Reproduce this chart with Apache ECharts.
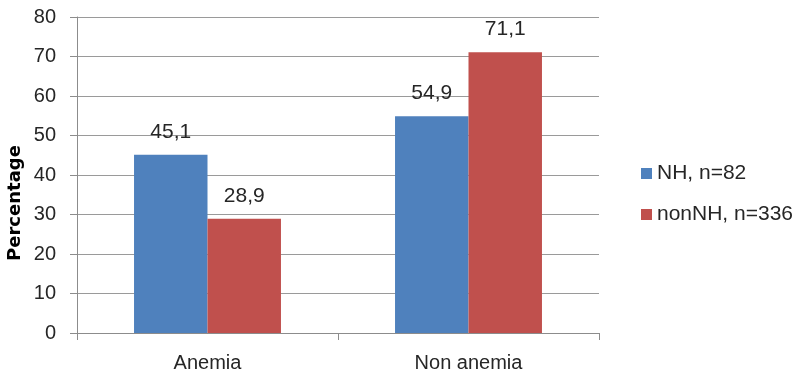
<!DOCTYPE html>
<html>
<head>
<meta charset="utf-8">
<script src="https://cdn.jsdelivr.net/npm/echarts@6/dist/echarts.min.js"></script>
<style>
  html, body { margin: 0; padding: 0; background: #fff; }
  #chart { width: 801px; height: 376px; }
</style>
</head>
<body>
<div id="chart"></div>
<script>
// Anemia prevalence by group
const categories = ['Anemia', 'Non anemia'];
const seriesNames = ['NH, n=82', 'nonNH, n=336'];
const nhValues = [45.1, 54.9];
const nonNhValues = [28.9, 71.1];
const yTicks = [0, 10, 20, 30, 40, 50, 60, 70, 80];
const yTitle = 'Percentage';

const FONT = 'Liberation Sans';
const TEXT = '#262626';
const AXIS = '#8c8c8c';
const fmt = v => String(v).replace('.', ',');

const chart = echarts.init(document.getElementById('chart'), null, { renderer: 'canvas' });

const labelStyle = {
  show: true,
  position: 'top',
  distance: 12,
  color: TEXT,
  fontFamily: FONT,
  fontSize: 21,
  formatter: p => fmt(p.value)
};

chart.setOption({
  animation: false,
  backgroundColor: '#ffffff',
  grid: { left: 77, right: 202, top: 17, bottom: 43, containLabel: false },
  legend: {
    orient: 'vertical',
    left: 636,
    top: 158,
    itemWidth: 11,
    itemHeight: 11,
    itemGap: 20,
    icon: 'rect',
    textStyle: { fontFamily: FONT, fontSize: 21, color: TEXT, padding: [0, 0, 0, 0] },
    data: seriesNames
  },
  graphic: [{
    type: 'text',
    x: 15,
    y: 203,
    rotation: Math.PI / 2,
    style: {
      text: yTitle,
      fontFamily: 'DejaVu Sans',
      fontWeight: 'bold',
      fontSize: 18,
      fill: '#000',
      align: 'center',
      verticalAlign: 'middle'
    }
  }],
  xAxis: {
    type: 'category',
    data: categories,
    axisLine: { show: true, lineStyle: { color: AXIS, width: 1 } },
    axisTick: { show: true, length: 7, lineStyle: { color: AXIS } },
    axisLabel: { fontFamily: FONT, fontSize: 20, color: TEXT, margin: 20 }
  },
  yAxis: {
    type: 'value',
    min: yTicks[0],
    max: yTicks[yTicks.length - 1],
    interval: 10,
    axisLine: { show: true, lineStyle: { color: AXIS, width: 1 } },
    axisTick: { show: true, length: 7, lineStyle: { color: AXIS } },
    axisLabel: { fontFamily: FONT, fontSize: 20, color: TEXT, margin: 21 },
    splitLine: { show: true, lineStyle: { color: '#9a9a9a', width: 1 } }
  },
  series: [
    {
      name: seriesNames[0],
      type: 'bar',
      data: nhValues,
      barGap: '0%',
      barCategoryGap: '43.7%',
      itemStyle: { color: '#4F81BD' },
      label: labelStyle
    },
    {
      name: seriesNames[1],
      type: 'bar',
      data: nonNhValues,
      barGap: '0%',
      barCategoryGap: '43.7%',
      itemStyle: { color: '#C0504D' },
      label: labelStyle
    }
  ]
});
</script>
</body>
</html>
